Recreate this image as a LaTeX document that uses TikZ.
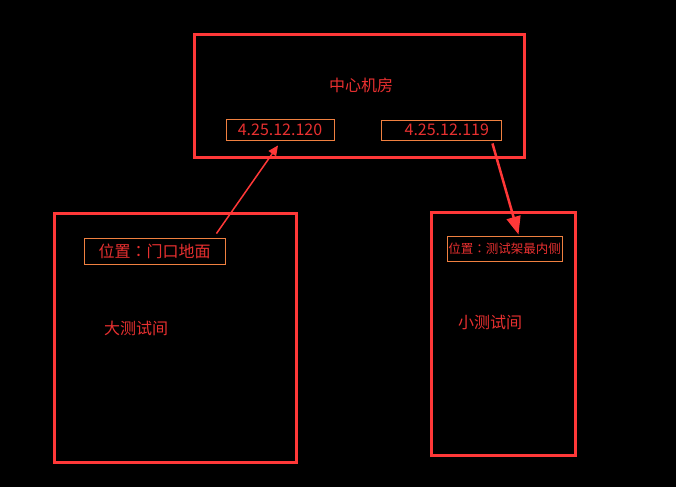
\documentclass[tikz,border=0pt]{standalone}
\usepackage{fontspec}
\setmainfont{Noto Sans CJK SC}
\newfontfamily\tcfont{Noto Sans CJK TC}
\usetikzlibrary{arrows.meta}
\definecolor{roomred}{RGB}{255,56,56}
\definecolor{txtred}{RGB}{232,48,48}
\definecolor{tagorange}{RGB}{240,128,64}
\tikzset{
  room/.style={draw=roomred, line width=3pt},
  tag/.style={draw=tagorange, line width=0.9pt, text=txtred, inner sep=0pt},
  lbl/.style={text=txtred, font=\fontsize{16}{18}\selectfont},
}
\newcommand{\wcolon}{{\tcfont ：}}

\begin{document}
\begin{tikzpicture}[x=1pt, y=-1pt]
			% background and size
			\fill[black] (0,0) rectangle (676,487);
			\useasboundingbox (0,0) rectangle (676,487);

			% Rooms
			\draw[room] (194,35) rectangle (524,157); % machine room
			\draw[room] (54,213) rectangle (296,462); % large test room
			\draw[room] (431,212) rectangle (575,455); % small test room

			% Room names
			\node[lbl] (center) at (361,85) {中心机房};
			\node[lbl] (bigroom) at (136,328) {大测试间};
			\node[lbl] (smallroom) at (490,322) {小测试间};

			% Addresses in the machine room
			\node[tag, minimum width=108pt, minimum height=21pt, font=\fontsize{16}{18}\selectfont] (ipA) at (280,129.5) {4.25.12.120};
			\node[tag, minimum width=120pt, minimum height=20pt, font=\fontsize{16}{18}\selectfont, text width=96pt, align=right] (ipB) at (441,130) {4.25.12.119};

			% Locations
			\node[tag, minimum width=141pt, minimum height=26pt, font=\fontsize{16}{18}\selectfont] (locA) at (154.5,251) {位置\wcolon 门口地面};
			\node[tag, minimum width=115pt, minimum height=25pt, font=\fontsize{12.5}{15}\selectfont] (locB) at (504.5,248.5) {位置\wcolon 测试架最内侧};

			% Links
			\draw[roomred, line width=1.5pt, -{Triangle[length=10pt, width=9pt]}] ([xshift=-9pt, yshift=4pt]locA.north east) -- ([xshift=-2pt, yshift=-5pt]ipA.south);
			\draw[roomred, line width=2.5pt, -{Triangle[length=18pt, width=14pt]}] ([xshift=-9pt, yshift=-3pt]ipB.south east) -- ([xshift=14pt, yshift=1pt]locB.north);
		\end{tikzpicture}
\end{document}
